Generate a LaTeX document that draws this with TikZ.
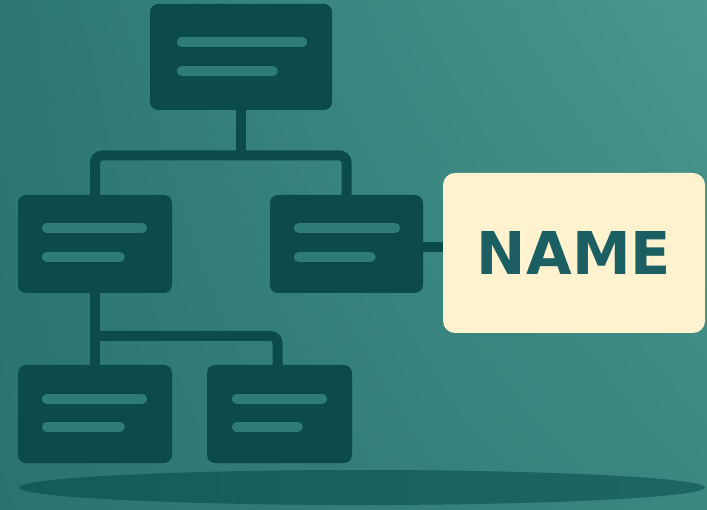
\documentclass[tikz,border=0pt]{standalone}
\usepackage{fontspec}
\newfontfamily\namefont{DejaVu Sans}
\usetikzlibrary{shadings}
\definecolor{bgUL}{HTML}{2C7776}
\definecolor{bgLL}{HTML}{2A7272}
\definecolor{bgUR}{HTML}{4A978F}
\definecolor{bgLR}{HTML}{3A8882}
\definecolor{boxc}{HTML}{0C4B4B}
\definecolor{barc}{HTML}{2F7B79}
\definecolor{namec}{HTML}{FFF2CE}
\definecolor{namet}{HTML}{1B5F63}
\definecolor{shadL}{HTML}{155A5A}
\definecolor{shadR}{HTML}{1D6664}
\begin{document}
\begin{tikzpicture}[x=1pt, y=-1pt,
  box/.style={rectangle, rounded corners=8pt, fill=boxc, inner sep=0pt, minimum height=98pt},
  bar/.style={draw=barc, line width=10pt, line cap=round},
  link/.style={draw=boxc, line width=10pt, rounded corners=7pt}]
\shade[upper left=bgUL, lower left=bgLL, upper right=bgUR, lower right=bgLR] (0,0) rectangle (707,510);
\useasboundingbox (0,0) rectangle (707,510);
% ground shadow
\shade[left color=shadL, right color=shadR] (362,487.5) ellipse [x radius=343, y radius=17.5];
% boxes
\node[box, minimum width=182pt, minimum height=106pt] (root) at (241,57){};
\node[box, minimum width=154pt] (left) at (95,244){};
\node[box, minimum width=153pt] (right) at (346.5,244){};
\node[box, minimum width=154pt] (leafL) at (95,414){};
\node[box, minimum width=145pt] (leafR) at (279.5,414){};
\node[rectangle, rounded corners=12pt, fill=namec, minimum width=262pt, minimum height=160pt,
  font=\namefont\bfseries\fontsize{59}{59}\selectfont, text=namet] (name) at (574,253){NAME};
% text bars
\draw[bar] ([shift={(32,38.5)}]root.north west) -- ([shift={(-30,38.5)}]root.north east);
\draw[bar] ([shift={(32,67.5)}]root.north west) -- ([shift={(123,67.5)}]root.north west);
\draw[bar] ([shift={(29,33)}]left.north west) -- ([shift={(-30,33)}]left.north east);
\draw[bar] ([shift={(29,62)}]left.north west) -- ([shift={(102,62)}]left.north west);
\draw[bar] ([shift={(29,33)}]right.north west) -- ([shift={(-28,33)}]right.north east);
\draw[bar] ([shift={(29,62)}]right.north west) -- ([shift={(101,62)}]right.north west);
\draw[bar] ([shift={(29,34)}]leafL.north west) -- ([shift={(-30,34)}]leafL.north east);
\draw[bar] ([shift={(29,62)}]leafL.north west) -- ([shift={(102,62)}]leafL.north west);
\draw[bar] ([shift={(30,34)}]leafR.north west) -- ([shift={(-30,34)}]leafR.north east);
\draw[bar] ([shift={(30,62)}]leafR.north west) -- ([shift={(91,62)}]leafR.north west);
% connectors
\coordinate (j1) at (241,155.5);
\coordinate (j2) at (95,336);
\coordinate (j3) at ([yshift=-3pt]right.east);
\draw[link] (root.south) -- (j1);
\draw[link] (left.north) |- (j1) -| (right.north);
\draw[link] (left.south) -- (leafL.north);
\draw[link] (j2) -| ([xshift=-2pt]leafR.north);
\draw[link] (j3) -- (j3 -| name.west);
\end{tikzpicture}
\end{document}
